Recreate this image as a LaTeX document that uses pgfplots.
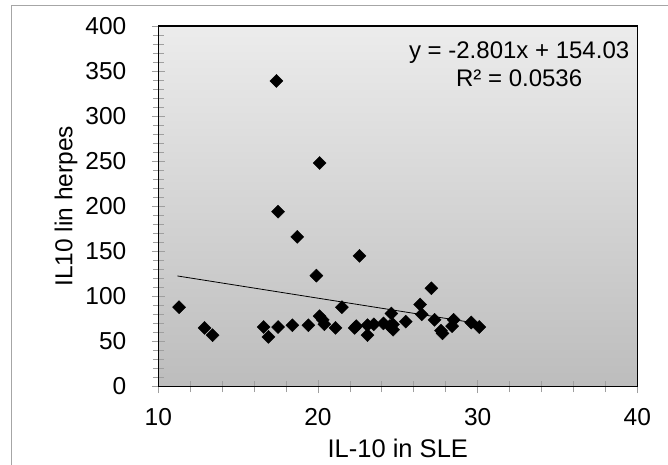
\documentclass[border=0pt]{standalone}
\usepackage{fontspec}
\setmainfont{Liberation Sans}
\usepackage{pgfplots}
\pgfplotsset{compat=1.18}
\begin{document}
\begin{tikzpicture}
\path[use as bounding box] (0pt,0pt) rectangle (668pt,464pt);
\draw[gray!70, line width=1pt] (11.7pt,-20pt) -- (11.7pt,458pt) -- (700pt,458pt);
\begin{axis}[
  at={(158.3pt,77.5pt)}, anchor=south west,
  scale only axis, width=479pt, height=360.5pt,
  xmin=10, xmax=40, ymin=0, ymax=400,
  xtick={10,20,30,40}, ytick={0,50,...,400},
  minor x tick num=4, minor y tick num=4,
  xtick pos=bottom, ytick pos=left,
  tick align=center,
  major tick length=13pt, minor tick length=11pt,
  tick style={gray!75, line width=0.8pt},
  axis line style={black, line width=1.4pt},
  axis background/.style={top color=gray!15, bottom color=gray!52},
  /pgf/number format/assume math mode=true,
  ticklabel style={font=\fontsize{24.5}{28}\selectfont},
  yticklabel style={xshift=-22pt},
  xticklabel style={yshift=-12pt},
  ylabel={IL10 lin herpes},
  ylabel style={font=\fontsize{24.5}{28}\selectfont, at={(axis description cs:-0.1615,0.5)}, anchor=south},
  clip=false,
]
\addplot[only marks, mark=square*, mark size=4.6pt, mark options={rotate=45, fill=black, draw=black}] table {
x y
11.3 88
12.9 65
13.4 57
16.6 66
16.9 55
17.4 339
17.5 194
17.5 66
18.4 68
18.7 166
19.4 68
19.9 123
20.1 248
20.1 78
20.3 74
20.4 69
21.1 65
21.5 88
22.3 65
22.4 67
22.6 145
23.1 57
23.1 68
23.5 69
24.1 70
24.5 67
24.6 81
24.7 63
24.7 69
25.5 72
26.4 91
26.5 80
27.1 109
27.3 74
27.7 62
27.8 59
28.4 67
28.5 74
29.6 71
30.1 66
};
\addplot[black, line width=0.8pt] coordinates {(11.2,122.66) (30.1,69.72)};
\node[align=center, font=\fontsize{24}{28}\selectfont] at (axis cs:32.6,358) {y = -2.801x + 154.03\\R² = 0.0536};
\node[anchor=base, inner sep=0pt, font=\fontsize{25.5}{30}\selectfont] at (axis description cs:0.5,-0.1970) {IL-10 in SLE};
\end{axis}
\end{tikzpicture}
\end{document}
